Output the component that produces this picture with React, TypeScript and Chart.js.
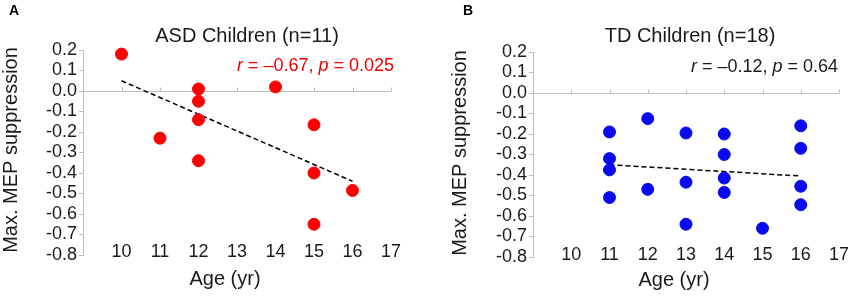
import React, { useEffect, useRef } from "react";
import { Chart, registerables } from "chart.js";

Chart.register(...registerables);

// ---------- data ----------
const AGE_TICKS = [9, 10, 11, 12, 13, 14, 15, 16, 17];
const AGE_TICK_LABELS = ["", "10", "11", "12", "13", "14", "15", "16", "17"];
const SUPPRESSION_TICKS = [-0.8, -0.7, -0.6, -0.5, -0.4, -0.3, -0.2, -0.1, 0.0, 0.1, 0.2];
const SUPPRESSION_TICK_LABELS = ["-0.8", "-0.7", "-0.6", "-0.5", "-0.4", "-0.3", "-0.2", "-0.1", "0.0", "0.1", "0.2"];

const asdAges = [10, 11, 12, 12, 12, 12, 14, 15, 15, 15, 16];
const asdSuppression = [0.18, -0.23, 0.01, -0.05, -0.14, -0.34, 0.02, -0.165, -0.4, -0.65, -0.485];
const asdTrendAges = [10, 16];
const asdTrendValues = [0.05, -0.44];

const tdAges = [11, 11, 11, 11, 12, 12, 13, 13, 13, 14, 14, 14, 14, 15, 16, 16, 16, 16];
const tdSuppression = [
  -0.19, -0.32, -0.375, -0.51, -0.125, -0.47, -0.195, -0.435, -0.64, -0.2, -0.3, -0.415, -0.485, -0.66, -0.16,
  -0.27, -0.455, -0.545,
];
const tdTrendAges = [11, 16];
const tdTrendValues = [-0.35, -0.405];

// ---------- styles ----------
const FONT = 'Arial, "Liberation Sans", Helvetica, sans-serif';
const TEXT = "#1a1a1a";
const AXIS = "#bdbdbd";

type Piece = { t: string; italic?: boolean };

type PanelSpec = {
  letter: string;
  letterX: number;
  title: string;
  titleX: number;
  titleY: number;
  stat: Piece[];
  statColor: string;
  statRight: number;
  statY: number;
  pointColor: string;
  ages: number[];
  values: number[];
  trendAges: number[];
  trendValues: number[];
  padLeft: number;
  padTop: number;
  padRight: number;
  xAxisHeight: number;
  xLabelPad: number;
  yTitleX: number;
  yTitleY: number;
  xTitleX: number;
  xTitleY: number;
};

const PANELS: PanelSpec[] = [
  {
    letter: "A",
    letterX: 9,
    title: "ASD Children (n=11)",
    titleX: 247,
    titleY: 36,
    stat: [{ t: "r", italic: true }, { t: " = \u20130.67, " }, { t: "p", italic: true }, { t: " = 0.025" }],
    statColor: "#ee0000",
    statRight: 394,
    statY: 66,
    pointColor: "#ff0000",
    ages: asdAges,
    values: asdSuppression,
    trendAges: asdTrendAges,
    trendValues: asdTrendValues,
    padLeft: 0,
    padTop: 50,
    padRight: 34,
    xAxisHeight: 42,
    xLabelPad: -8,
    yTitleX: 11,
    yTitleY: 150,
    xTitleX: 225,
    xTitleY: 279,
  },
  {
    letter: "B",
    letterX: 38,
    title: "TD Children (n=18)",
    titleX: 265,
    titleY: 36,
    stat: [{ t: "r", italic: true }, { t: " = \u20130.12, " }, { t: "p", italic: true }, { t: " = 0.64" }],
    statColor: TEXT,
    statRight: 413,
    statY: 67,
    pointColor: "#0a0aee",
    ages: tdAges,
    values: tdSuppression,
    trendAges: tdTrendAges,
    trendValues: tdTrendValues,
    padLeft: 25,
    padTop: 52,
    padRight: 11,
    xAxisHeight: 40,
    xLabelPad: -9,
    yTitleX: 35,
    yTitleY: 153,
    xTitleX: 249,
    xTitleY: 280,
  },
];

function Panel({ spec }: { spec: PanelSpec }) {
  const ref = useRef<HTMLCanvasElement>(null);

  useEffect(() => {
    const canvas = ref.current;
    if (!canvas) return;

    const decor = {
      id: "decor" + spec.letter,
      beforeDatasetsDraw(chart: any) {
        const { ctx, chartArea } = chart;
        const xs = chart.scales.x;
        const ys = chart.scales.y;
        const y0 = Math.round(ys.getPixelForValue(0)) + 0.5;
        ctx.save();
        ctx.strokeStyle = AXIS;
        ctx.lineWidth = 1;
        ctx.beginPath();
        ctx.moveTo(chartArea.left, y0);
        ctx.lineTo(chartArea.right, y0);
        for (const v of AGE_TICKS) {
          const px = Math.round(xs.getPixelForValue(v)) + 0.5;
          ctx.moveTo(px, y0);
          ctx.lineTo(px, y0 - 4);
        }
        ctx.stroke();
        ctx.restore();
      },
      afterDraw(chart: any) {
        const { ctx } = chart;
        ctx.save();
        // panel letter
        ctx.fillStyle = "#000";
        ctx.font = `bold 14px ${FONT}`;
        ctx.textAlign = "left";
        ctx.textBaseline = "middle";
        ctx.fillText(spec.letter, spec.letterX, 11);
        // title
        ctx.fillStyle = TEXT;
        ctx.font = `20px ${FONT}`;
        ctx.textAlign = "center";
        ctx.fillText(spec.title, spec.titleX, spec.titleY);
        // stat annotation
        ctx.fillStyle = spec.statColor;
        ctx.textAlign = "left";
        const fontFor = (p: Piece) => `${p.italic ? "italic " : ""}18px ${FONT}`;
        let total = 0;
        for (const p of spec.stat) {
          ctx.font = fontFor(p);
          total += ctx.measureText(p.t).width;
        }
        let cx = spec.statRight - total;
        for (const p of spec.stat) {
          ctx.font = fontFor(p);
          ctx.fillText(p.t, cx, spec.statY);
          cx += ctx.measureText(p.t).width;
        }
        // x title
        ctx.fillStyle = TEXT;
        ctx.font = `20px ${FONT}`;
        ctx.textAlign = "center";
        ctx.fillText("Age (yr)", spec.xTitleX, spec.xTitleY);
        // y title
        ctx.translate(spec.yTitleX, spec.yTitleY);
        ctx.rotate(-Math.PI / 2);
        ctx.fillText("Max. MEP suppression", 0, 0);
        ctx.restore();
      },
    };

    const chart = new Chart(canvas, {
      type: "scatter",
      data: {
        datasets: [
          {
            type: "scatter",
            data: spec.ages.map((a, i) => ({ x: a, y: spec.values[i] })),
            pointRadius: 6,
            pointHoverRadius: 6,
            borderWidth: 1,
            backgroundColor: spec.pointColor,
            borderColor: spec.pointColor,
            clip: false,
          },
          {
            type: "line",
            data: spec.trendAges.map((a, i) => ({ x: a, y: spec.trendValues[i] })),
            borderColor: "#000",
            borderWidth: 1.5,
            borderDash: [5, 3],
            pointRadius: 0,
            fill: false,
            showLine: true,
            clip: false,
          },
        ],
      } as any,
      options: {
        animation: false,
        responsive: false,
        devicePixelRatio: 1,
        events: [],
        layout: { padding: { left: spec.padLeft, top: spec.padTop, right: spec.padRight, bottom: 0 } },
        plugins: { legend: { display: false }, tooltip: { enabled: false }, title: { display: false } },
        scales: {
          x: {
            type: "linear",
            position: "bottom",
            min: 9,
            max: 17,
            afterBuildTicks: (s: any) => {
              s.ticks = AGE_TICKS.map((v) => ({ value: v }));
            },
            afterFit: (s: any) => {
              s.height = spec.xAxisHeight;
            },
            ticks: {
              callback: (_v: any, i: number) => AGE_TICK_LABELS[i],
              font: { size: 18, family: FONT },
              color: TEXT,
              mirror: true,
              padding: spec.xLabelPad,
              maxRotation: 0,
              autoSkip: false,
            },
            grid: { display: false, drawTicks: false },
            border: { display: false },
          },
          y: {
            type: "linear",
            position: "left",
            min: -0.8,
            max: 0.2,
            afterBuildTicks: (s: any) => {
              s.ticks = SUPPRESSION_TICKS.map((v) => ({ value: v }));
            },
            afterFit: (s: any) => {
              s.width = 83;
            },
            ticks: {
              callback: (_v: any, i: number) => SUPPRESSION_TICK_LABELS[i],
              font: { size: 18, family: FONT },
              color: TEXT,
              padding: 2,
              autoSkip: false,
            },
            grid: { drawOnChartArea: false, drawTicks: true, tickLength: 4, color: AXIS, lineWidth: 1 },
            border: { display: true, color: AXIS, width: 1 },
          },
        },
      } as any,
      plugins: [decor],
    });

    return () => chart.destroy();
  }, [spec]);

  return <canvas ref={ref} width={425} height={297} style={{ display: "block", width: 425, height: 297 }} />;
}

export default function App() {
  return (
    <div
      style={{
        position: "fixed",
        left: 0,
        top: 0,
        width: 850,
        height: 297,
        display: "flex",
        background: "#fff",
      }}
    >
      {PANELS.map((p) => (
        <Panel key={p.letter} spec={p} />
      ))}
    </div>
  );
}
